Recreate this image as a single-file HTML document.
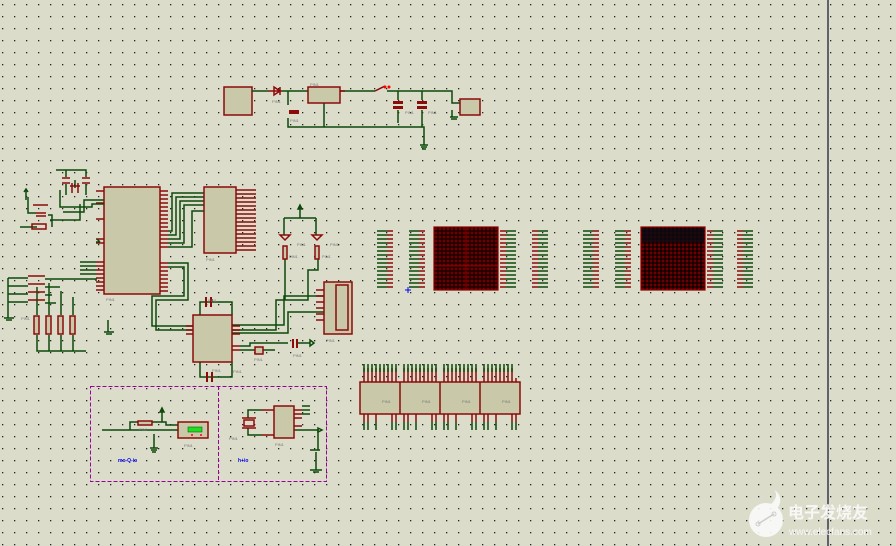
<!DOCTYPE html>
<html><head><meta charset="utf-8"><style>
html,body{margin:0;padding:0;background:#dcdccb;}
svg{display:block}
.w{stroke:#0b4a0b;stroke-width:1.5;fill:none}
.r{stroke:#8b0a0a;stroke-width:1.5;fill:none}
.b{fill:#c9c9aa;stroke:#8b0a0a;stroke-width:1.5}
.t{font-family:"Liberation Sans",sans-serif;font-size:4px;fill:#777}
</style></head><body>
<svg width="896" height="546" viewBox="0 0 896 546" xmlns="http://www.w3.org/2000/svg">
<defs>
<pattern id="g" width="12" height="12" patternUnits="userSpaceOnUse" x="2" y="4">
<rect x="0" y="0" width="1.3" height="1.3" fill="#222"/></pattern>
<pattern id="m" width="4" height="4" patternUnits="userSpaceOnUse" x="434" y="227">
<rect width="4" height="4" fill="#1a0000"/><path d="M2 0.5V3.5M0.5 2H3.5" stroke="#8b0000" stroke-width="1"/></pattern>
<pattern id="m2" width="4" height="4" patternUnits="userSpaceOnUse" x="641" y="227">
<rect width="4" height="4" fill="#110000"/><path d="M2 0.5V3.5M0.5 2H3.5" stroke="#900000" stroke-width="1"/></pattern>
</defs>
<rect width="896" height="546" fill="#dcdccb"/>
<rect width="896" height="546" fill="url(#g)"/>
<line x1="828" y1="0" x2="828" y2="546" stroke="#101030" stroke-width="1.2"/>

<!-- top power -->
<rect class="b" x="224" y="87" width="28" height="28"/>
<path class="w" d="M252 91H268M282 91H308M288 91V105M288 118V127H424V145M340 91H375M387 91H452V103H460M452 110V117M324 103V127"/>
<path class="r" d="M268 91H282M274 87L280 91L274 95ZM280 87V95M340 91H345"/>
<rect x="289" y="110" width="10" height="4" fill="#8b0a0a"/>
<path class="r" d="M375 91L385 86"/><circle cx="385" cy="87" r="1.5" fill="red"/><circle cx="389" cy="87" r="1.5" fill="red"/>
<path class="w" d="M398 91V100M398 110V123M422 91V100M422 110V127"/>
<rect x="393" y="101" width="10" height="3" fill="#8b0a0a"/><rect x="393" y="106" width="10" height="3" fill="#8b0a0a"/>
<rect x="417" y="101" width="10" height="3" fill="#8b0a0a"/><rect x="417" y="106" width="10" height="3" fill="#8b0a0a"/>
<rect x="295" y="114" width="0" height="0"/>
<rect class="b" x="308" y="87" width="32" height="16"/>
<rect class="b" x="460" y="99" width="20" height="16"/>
<path class="w" d="M420 145H428M421 147H427M422 149H426M450 117H458M451 119H457"/>

<!-- MCU and crystal -->
<rect class="b" x="104" y="187" width="56" height="107"/>
<path class="r" d="M160 191H168M160 195H168M160 199H168M160 203H168M160 207H168M160 211H168M160 215H168M160 219H168M160 223H168M160 227H168M160 231H168M160 235H168M160 239H168M160 243H168M160 247H168M160 263H168M160 267H168M160 271H168M160 275H168M160 279H168M160 283H168M160 287H168M160 291H168"/>
<path class="r" d="M96 191H104M96 203H104M96 219H104M96 239H104M96 243H104M96 262H104M96 266H104M96 270H104M96 274H104M96 278H104M96 282H104M96 286H104M96 290H104"/>
<path class="w" d="M168 231H172V193H204M168 235H176V197H204M168 239H180V201H204M168 243H184V205H204M168 247H192V211H204M168 263H188V300H156V330H193M168 267H184V296H152V326H193M80 262H96M80 266H96M80 270H96M80 274H96"/>
<rect class="b" x="204" y="187" width="32" height="66"/>
<path class="r" d="M236 190H256M236 194H256M236 198H256M236 202H256M236 206H256M236 210H256M236 214H256M236 218H256M236 222H256M236 226H256M236 230H256M236 234H256M236 238H256M236 242H256M236 246H256M236 250H256"/>
<path class="w" d="M56 170H86V177M66 170V177M66 184V195M86 184V195M60 190V207H92V204H104M60 195V190M75 188V180M63 212H84V200H104M50 220H80V204M28 197V213H36M28 227H37M52 227V215H48M20 227H28"/>
<path class="r" d="M62 178H70M62 183H70M82 178H90M82 183H90M70 186H80M72 183V193M78 183V193M33 205H48M36 213H46M36 216H46M32 224H46V229H32Z"/>
<path class="w" d="M26 190V200M24 192L26 189L28 192"/>
<path class="w" d="M96 242H100M97 239L100 242"/>

<!-- buttons -->
<path class="w" d="M8 278V318M8 278H28M8 286H28M8 294H28M8 302H28M45 279H96V281M45 287H60M45 295H52M45 303H56M37 287V315M49 283V315M61 291V315M73 297V315M37 335V351H86M49 335V351M61 335V351M73 335V351M4 318H14M6 320H12"/>
<path class="r" d="M28 276H45M28 284H45M28 292H45M28 300H45"/>
<rect x="34" y="316" width="5" height="18" class="b"/><rect x="46" y="316" width="5" height="18" class="b"/><rect x="58" y="316" width="5" height="18" class="b"/><rect x="70" y="316" width="5" height="18" class="b"/>
<path class="w" d="M108 320V332M104 332H114M106 334H112"/>

<!-- LEDs -->
<path class="w" d="M300 205V218M284 218H316M284 218V235M316 218V235M285 258V300H276V330H232M318 258V270H308V300H285M232 333H288V312H324M232 325H284V296H324M300 205L298 209H302Z"/>
<path class="r" d="M280 235H290L285 240ZM312 235H322L317 240Z"/>
<rect class="b" x="283" y="246" width="4" height="13"/><rect class="b" x="315" y="246" width="4" height="13"/>
<rect class="b" x="324" y="282" width="28" height="52"/>
<path class="r" d="M316 290H324M316 296H324M316 302H324M316 308H324M316 314H324M316 320H324M336 285H348V330H336Z"/>

<!-- MAX232 -->
<rect class="b" x="193" y="315" width="39" height="47"/>
<path class="r" d="M186 326H193M186 330H193M186 334H193M232 326H240M232 330H240M232 334H240M232 346H240M232 350H240M212 299V302M212 373V377"/>
<path class="w" d="M200 315V302H232V315M200 362V377H232V362M240 350H255M263 350H275M240 346H250V343H288M296 343H310"/>
<rect x="205" y="297" width="2" height="10" fill="#8b0a0a"/><rect x="210" y="297" width="2" height="10" fill="#8b0a0a"/>
<rect x="206" y="372" width="2" height="10" fill="#8b0a0a"/><rect x="211" y="372" width="2" height="10" fill="#8b0a0a"/>
<rect class="b" x="255" y="347" width="8" height="7"/><rect x="292" y="339" width="2" height="9" fill="#8b0a0a"/><rect x="296" y="339" width="2" height="9" fill="#8b0a0a"/>
<path class="w" d="M310 340L314 343L310 346Z"/>

<!-- pin groups -->
<g>
<path class="w" d="M377 231H387M377 235H387M377 239H387M377 243H387M377 247H387M377 251H387M377 255H387M377 259H387M377 263H387M377 267H387M377 271H387M377 275H387M377 279H387M377 283H387M377 287H387"/>
<path class="r" d="M387 231H393M387 235H393M387 239H393M387 243H393M387 247H393M387 251H393M387 255H393M387 259H393M387 263H393M387 267H393M387 271H393M387 275H393M387 279H393M387 283H393M387 287H393"/>
</g>
<use href="#pg1" />
<g transform="translate(32,0)"><path class="w" d="M377 231H387M377 235H387M377 239H387M377 243H387M377 247H387M377 251H387M377 255H387M377 259H387M377 263H387M377 267H387M377 271H387M377 275H387M377 279H387M377 283H387M377 287H387"/><path class="r" d="M387 231H393M387 235H393M387 239H393M387 243H393M387 247H393M387 251H393M387 255H393M387 259H393M387 263H393M387 267H393M387 271H393M387 275H393M387 279H393M387 283H393M387 287H393"/></g>
<g transform="translate(206,0)"><path class="w" d="M377 231H387M377 235H387M377 239H387M377 243H387M377 247H387M377 251H387M377 255H387M377 259H387M377 263H387M377 267H387M377 271H387M377 275H387M377 279H387M377 283H387M377 287H387"/><path class="r" d="M387 231H393M387 235H393M387 239H393M387 243H393M387 247H393M387 251H393M387 255H393M387 259H393M387 263H393M387 267H393M387 271H393M387 275H393M387 279H393M387 283H393M387 287H393"/></g>
<g transform="translate(238,0)"><path class="w" d="M377 231H387M377 235H387M377 239H387M377 243H387M377 247H387M377 251H387M377 255H387M377 259H387M377 263H387M377 267H387M377 271H387M377 275H387M377 279H387M377 283H387M377 287H387"/><path class="r" d="M387 231H393M387 235H393M387 239H393M387 243H393M387 247H393M387 251H393M387 255H393M387 259H393M387 263H393M387 267H393M387 271H393M387 275H393M387 279H393M387 283H393M387 287H393"/></g>
<g transform="translate(123,0)"><path class="r" d="M377 231H383M377 235H383M377 239H383M377 243H383M377 247H383M377 251H383M377 255H383M377 259H383M377 263H383M377 267H383M377 271H383M377 275H383M377 279H383M377 283H383M377 287H383"/><path class="w" d="M383 231H393M383 235H393M383 239H393M383 243H393M383 247H393M383 251H393M383 255H393M383 259H393M383 263H393M383 267H393M383 271H393M383 275H393M383 279H393M383 283H393M383 287H393"/></g>
<g transform="translate(155,0)"><path class="r" d="M377 231H383M377 235H383M377 239H383M377 243H383M377 247H383M377 251H383M377 255H383M377 259H383M377 263H383M377 267H383M377 271H383M377 275H383M377 279H383M377 283H383M377 287H383"/><path class="w" d="M383 231H393M383 235H393M383 239H393M383 243H393M383 247H393M383 251H393M383 255H393M383 259H393M383 263H393M383 267H393M383 271H393M383 275H393M383 279H393M383 283H393M383 287H393"/></g>
<g transform="translate(330,0)"><path class="r" d="M377 231H383M377 235H383M377 239H383M377 243H383M377 247H383M377 251H383M377 255H383M377 259H383M377 263H383M377 267H383M377 271H383M377 275H383M377 279H383M377 283H383M377 287H383"/><path class="w" d="M383 231H393M383 235H393M383 239H393M383 243H393M383 247H393M383 251H393M383 255H393M383 259H393M383 263H393M383 267H393M383 271H393M383 275H393M383 279H393M383 283H393M383 287H393"/></g>
<g transform="translate(360,0)"><path class="r" d="M377 231H383M377 235H383M377 239H383M377 243H383M377 247H383M377 251H383M377 255H383M377 259H383M377 263H383M377 267H383M377 271H383M377 275H383M377 279H383M377 283H383M377 287H383"/><path class="w" d="M383 231H393M383 235H393M383 239H393M383 243H393M383 247H393M383 251H393M383 255H393M383 259H393M383 263H393M383 267H393M383 271H393M383 275H393M383 279H393M383 283H393M383 287H393"/></g>
<path d="M405 290H411M408 287V293" stroke="#00f" stroke-width="1"/>

<!-- matrices -->
<rect x="434" y="227" width="64" height="63" fill="url(#m)" stroke="#8b0000" stroke-width="1.2"/>
<path d="M466 227V290M434 266H498" stroke="#8b0000" stroke-width="1"/>
<rect x="641" y="227" width="64" height="63" fill="url(#m2)" stroke="#8b0000" stroke-width="1.2"/>
<rect x="642" y="228" width="62" height="14" fill="#0a0a10" opacity="0.8"/>

<!-- 7 seg -->
<rect class="b" x="360" y="382" width="160" height="32"/>
<path class="r" d="M400 382V414M440 382V414M480 382V414"/>
<path class="r" d="M364 368V382M368 368V382M372 368V382M376 368V382M380 368V382M384 368V382M388 368V382M392 368V382M396 368V382M404 368V382M408 368V382M412 368V382M416 368V382M420 368V382M424 368V382M428 368V382M432 368V382M436 368V382M444 368V382M448 368V382M452 368V382M456 368V382M460 368V382M464 368V382M468 368V382M472 368V382M476 368V382M484 368V382M488 368V382M492 368V382M496 368V382M500 368V382M504 368V382M508 368V382M512 368V382M516 378V382"/>
<path class="w" d="M364 364V372M368 364V372M372 364V372M376 364V372M380 364V372M384 364V372M388 364V372M392 364V372M396 364V372M404 364V372M408 364V372M412 364V372M416 364V372M420 364V372M424 364V372M428 364V372M432 364V372M436 364V372M444 364V372M448 364V372M452 364V372M456 364V372M460 364V372M464 364V372M468 364V372M472 364V372M476 364V372M484 364V372M488 364V372M492 364V372M496 364V372M500 364V372M504 364V372M508 364V372M512 364V372"/>
<path class="r" d="M364 414V422M368 414V422M376 414V422M392 414V422M396 414V422M404 414V422M408 414V422M416 414V422M432 414V422M436 414V422M444 414V422M448 414V422M456 414V422M472 414V422M476 414V422M484 414V422M488 414V422M496 414V422M512 414V422M516 414V422"/>
<path class="w" d="M364 422V430M368 422V430M376 422V430M392 422V430M396 422V430M404 422V430M408 422V430M416 422V430M432 422V430M436 422V430M444 422V430M448 422V430M456 422V430M472 422V430M476 422V430M484 422V430M488 422V430M496 422V430M512 422V430M516 422V430"/>
<g class="t"><text x="382" y="403">PIN1</text><text x="422" y="403">PIN1</text><text x="462" y="403">PIN1</text><text x="502" y="403">PIN1</text></g>

<!-- dashed box -->
<rect x="90.5" y="386.5" width="236" height="95" fill="none" stroke="#9a009a" stroke-width="1" stroke-dasharray="4,2"/>
<line x1="218.5" y1="386" x2="218.5" y2="481" stroke="#9a009a" stroke-width="1" stroke-dasharray="4,2"/>
<path class="w" d="M102 430H130V422H138M152 422H166V425H178M130 430H178M162 422V410M154 434V448M150 448H158M151 450H157M152 452H156"/>
<path class="w" d="M162 408L160 412H164Z"/>
<rect class="b" x="138" y="421" width="14" height="4"/>
<rect class="b" x="178" y="422" width="30" height="16"/>
<rect x="188" y="427" width="14" height="5" fill="#22dd22" stroke="#004400" stroke-width="0.5"/>
<circle cx="192" cy="435" r="1" fill="red"/><circle cx="201" cy="435" r="1" fill="red"/>
<text x="118" y="462" font-family="Liberation Sans,sans-serif" font-size="5" font-weight="bold" fill="#0000ee">mo-Q-io</text>
<text x="238" y="462" font-family="Liberation Sans,sans-serif" font-size="5" font-weight="bold" fill="#0000ee">h+io</text>
<path class="w" d="M248 418V410H262M248 428V435H262M294 430H318V450M302 406H310M302 410H310M302 414H310M310 450H320M316 452V470M310 470H322M313 472H319"/>
<path class="r" d="M244 420H254V426H244ZM242 418H256M242 428H256M262 410H274M262 435H274M294 410H302M294 414H302M294 418H302M294 426H302"/>
<rect class="b" x="274" y="406" width="20" height="32"/>
<path class="w" d="M318 428L322 430L318 432Z"/>

<!-- small labels -->
<g class="t">
<text x="290" y="122">PIN1</text><text x="310" y="86">PIN1</text><text x="272" y="103">PIN1</text><text x="405" y="114">PIN1</text><text x="428" y="114">PIN1</text>
<text x="106" y="301">PIN1</text><text x="206" y="261">PIN1</text><text x="208" y="302">PIN1</text><text x="212" y="372">PIN1</text>
<text x="21" y="320">PIN1</text><text x="297" y="246">PIN1</text><text x="330" y="246">PIN1</text><text x="289" y="258">PIN1</text><text x="322" y="258">PIN1</text>
<text x="326" y="342">PIN1</text><text x="254" y="361">PIN1</text><text x="233" y="373">PIN1</text><text x="293" y="357">PIN1</text>
<text x="184" y="447">PIN1</text><text x="275" y="446">PIN1</text><text x="229" y="440">PIN1</text><text x="139" y="431">PIN1</text>
</g>

<!-- watermark -->
<g fill="#fafafa" opacity="0.9">
<circle cx="766" cy="520" r="17"/>
<path d="M770 505C776 500 778 494 774 490C782 494 782 504 776 510Z"/>
<text x="788" y="518" font-family="Liberation Sans,'Noto Sans CJK SC',sans-serif" font-size="16" font-weight="bold">电子发烧友</text>
<text x="789" y="535" font-family="Liberation Sans,sans-serif" font-size="10">www.elecfans.com</text>
</g>
<path d="M758 524L774 514" stroke="#ccc" stroke-width="1.5"/><circle cx="758" cy="524" r="2" fill="none" stroke="#ccc"/><circle cx="774" cy="514" r="2" fill="none" stroke="#ccc"/>
</svg>
</body></html>
